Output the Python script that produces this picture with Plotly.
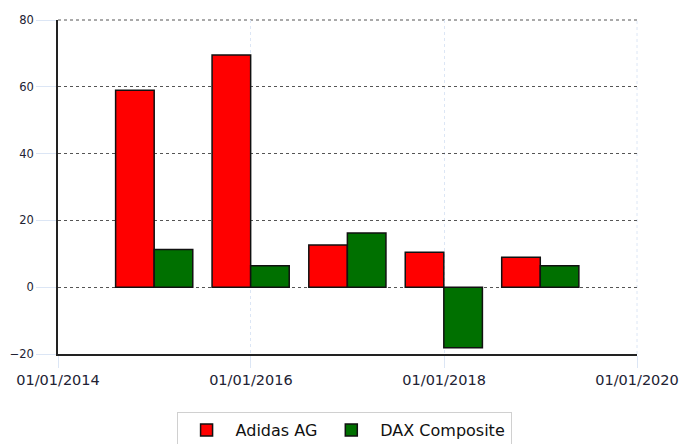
import plotly.graph_objects as go

dates = ["2014-12-31", "2015-12-31", "2016-12-31", "2017-12-31", "2018-12-31"]
adidas = [59.0, 69.5, 12.6, 10.5, 9.0]
dax = [11.3, 6.4, 16.2, -18.1, 6.4]
x_ticks = ["2014-01-01", "2016-01-01", "2018-01-01", "2020-01-01"]
x_labels = ["01/01/2014", "01/01/2016", "01/01/2018", "01/01/2020"]
y_ticks = [-20, 0, 20, 40, 60, 80]

fig = go.Figure()
fig.add_trace(go.Bar(x=dates, y=adidas, name="Adidas AG",
                     marker=dict(color="#ff0000", line=dict(color="#111111", width=1.5))))
fig.add_trace(go.Bar(x=dates, y=dax, name="DAX Composite",
                     marker=dict(color="#007000", line=dict(color="#111111", width=1.5))))

fig.update_layout(
    width=680, height=444,
    margin=dict(l=58, r=43, t=20, b=90),
    paper_bgcolor="white", plot_bgcolor="white",
    barmode="group", bargap=0.2, bargroupgap=0,
    font=dict(family="DejaVu Sans", color="#222233"),
    showlegend=True,
    legend=dict(orientation="h", xref="container", yref="container",
                x=0.506, xanchor="center", y=0.0721, yanchor="top",
                bordercolor="#d0d0d0", borderwidth=1, font=dict(size=16, color="#111111"),
                itemwidth=48, tracegroupgap=0),
    shapes=[
        dict(type="line", xref="paper", yref="paper", x0=0, x1=1, y0=1, y1=1,
             line=dict(color="#555555", width=1, dash="dot"), layer="below"),
        dict(type="line", xref="paper", yref="paper", x0=1, x1=1, y0=0, y1=1,
             line=dict(color="#dce6f5", width=1, dash="dot"), layer="below"),
    ],
)
fig.update_xaxes(
    type="date", range=["2014-01-01", "2020-01-01"],
    tickvals=x_ticks, ticktext=x_labels,
    tickfont=dict(size=14.5, color="#222233"),
    showgrid=True, gridcolor="#dce6f5", griddash="dot", gridwidth=1,
    showline=True, linecolor="#222222", linewidth=1.5,
    ticks="outside", ticklen=12, tickcolor="#dce6f5",
    zeroline=False, automargin=False, ticklabeloverflow="allow",
)
fig.update_yaxes(
    range=[-20, 80], tickvals=y_ticks,
    tickfont=dict(size=11.5, color="#222233"),
    showgrid=True, gridcolor="#555555", griddash="dot", gridwidth=1,
    showline=True, linecolor="#222222", linewidth=1.5,
    ticks="outside", ticklen=20, tickcolor="#dce6f5",
    zeroline=False, automargin=False,
)

fig.write_html("out.html", config={"displayModeBar": False},
               post_script="document.body.style.margin='0';document.body.style.overflow='hidden';")
